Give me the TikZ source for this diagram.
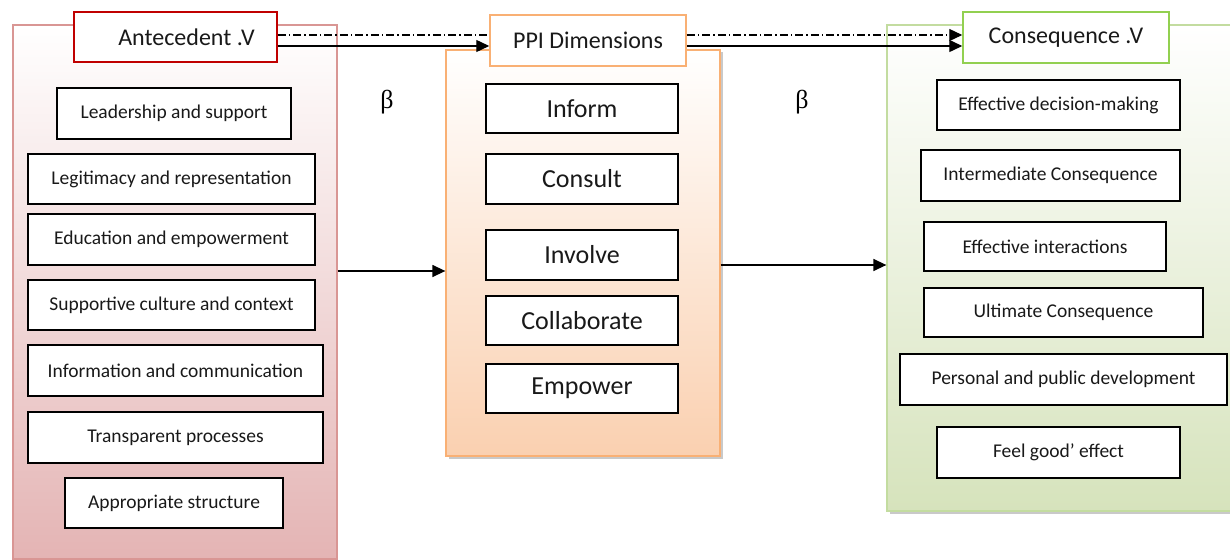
\documentclass[tikz,border=0pt]{standalone}
\usepackage{fontspec}
\setmainfont{Carlito}
\newfontfamily\betafont{Liberation Serif}
\usetikzlibrary{arrows.meta,shadows}
\definecolor{pinkB}{RGB}{228,180,180}
\definecolor{pinkE}{RGB}{217,150,148}
\definecolor{redE}{RGB}{192,0,0}
\definecolor{orB}{RGB}{250,208,176}
\definecolor{orE}{RGB}{249,176,116}
\definecolor{grB}{RGB}{214,227,188}
\definecolor{grE}{RGB}{146,208,80}
\definecolor{grL}{RGB}{195,220,160}
\begin{document}
\begin{tikzpicture}[x=1pt,y=-1pt,
  panel/.style={inner sep=0pt, line width=1.3pt, top color=white},
  shad/.style={drop shadow={shadow xshift=2.5pt, shadow yshift=-2.5pt, opacity=.35, fill=black!60}},
  titlebox/.style={draw, fill=white, line width=1.5pt, inner sep=0pt, text=black!90, font=\fontsize{24}{28}\selectfont},
  box/.style={draw=black, fill=white, line width=1.4pt, inner sep=0pt, text=black!90, font=\fontsize{19.5}{23}\selectfont},
  mbox/.style={box, font=\fontsize{26}{30}\selectfont, minimum width=192pt},
  arr/.style={line width=1.4pt, -{Triangle[length=13pt,width=12pt]}},
  dd/.style={line width=1.2pt, dash pattern=on 8pt off 3pt on 1.5pt off 3pt},
  betal/.style={font=\betafont\fontsize{26}{30}\selectfont}]
\useasboundingbox (0,0) rectangle (1230,559);
\fill[white] (0,0) rectangle (1230,559);

% panels
\node[panel, draw=pinkE, bottom color=pinkB, minimum width=324pt, minimum height=534pt] (Lp) at (175,292) {};
\node[panel, shad, draw=orE, bottom color=orB, minimum width=274pt, minimum height=406pt] (Op) at (583,253) {};
\node[panel, shad, draw=grL, bottom color=grB, minimum width=350pt, minimum height=486pt] (Gp) at (1062,268) {};

% title boxes
\node[titlebox, draw=redE, minimum width=203pt, minimum height=50pt] (Ante) at (175.5,37) {\hspace*{22pt}Antecedent .V};
\node[titlebox, draw=orE, minimum width=196pt, minimum height=51pt] (PPI) at (588,40.5) {PPI Dimensions};
\node[titlebox, draw=grE, minimum width=206pt, minimum height=51pt] (Cons) at (1066,37.5) {Consequence .V};

% left boxes
\node[box, minimum width=234pt, minimum height=51pt] (l1) at (174,113.5) {Leadership and support};
\node[box, minimum width=287pt, minimum height=50pt] (l2) at (171.5,179) {Legitimacy and representation};
\node[box, minimum width=287pt, minimum height=51pt] (l3) at (171.5,239.5) {Education and empowerment};
\node[box, minimum width=287pt, minimum height=50pt] (l4) at (171.5,305) {Supportive culture and context};
\node[box, minimum width=295pt, minimum height=51pt] (l5) at (175.5,370.5) {Information and communication};
\node[box, minimum width=295pt, minimum height=51pt] (l6) at (175.5,437.5) {Transparent processes};
\node[box, minimum width=218pt, minimum height=50pt] (l7) at (174,503) {Appropriate structure};

% middle boxes
\node[mbox, minimum height=49pt] (m1) at (582,108.5) {Inform};
\node[mbox, minimum height=50pt] (m2) at (582,179) {Consult};
\node[mbox, minimum height=50pt] (m3) at (582,255) {Involve};
\node[mbox, minimum height=49pt] (m4) at (582,320.5) {Collaborate};
\node[mbox, minimum height=49pt] (m5) at (582,388.5) {Empower};

% right boxes
\node[box, minimum width=243pt, minimum height=50pt] (r1) at (1058.5,105) {Effective decision-making};
\node[box, minimum width=259pt, minimum height=51pt] (r2) at (1050.5,175.5) {Intermediate Consequence};
\node[box, minimum width=242pt, minimum height=49pt] (r3) at (1045,246.5) {Effective interactions};
\node[box, minimum width=279pt, minimum height=49pt] (r4) at (1063.5,312.5) {Ultimate Consequence};
\node[box, minimum width=327pt, minimum height=51pt] (r5) at (1063.5,379.5) {Personal and public development};
\node[box, minimum width=243pt, minimum height=51pt] (r6) at (1058.5,452.5) {Feel good’ effect};

% beta labels
\node[betal] (b1) at (387,102) {β};
\node[betal] (b2) at (802,102) {β};

% helper levels
\coordinate (yd1) at (0,35);
\coordinate (ys1) at (0,46);
\coordinate (ym1) at (0,271);
\coordinate (ym2) at (0,265);

% top connectors
\draw[dd] (Ante.east |- yd1) -- (PPI.west |- yd1);
\draw[arr] (Ante.east |- ys1) -- (PPI.west |- ys1);
\draw[dd, -{Triangle[length=13pt,width=12pt]}] (PPI.east |- yd1) -- (Cons.west |- yd1);
\draw[arr] (PPI.east |- ys1) -- (Cons.west |- ys1);

% middle connectors
\draw[arr] (Lp.east |- ym1) -- (Op.west |- ym1);
\draw[arr] (Op.east |- ym2) -- (Gp.west |- ym2);
\end{tikzpicture}
\end{document}
